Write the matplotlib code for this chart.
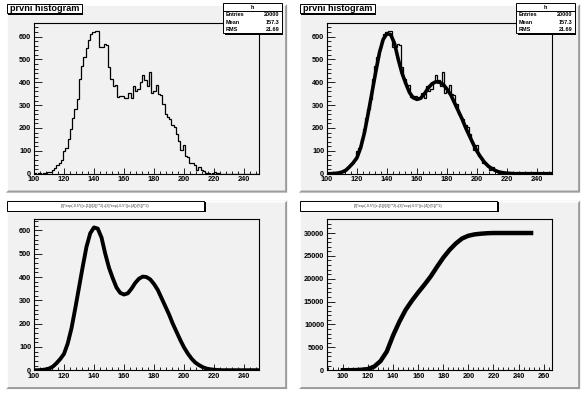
import matplotlib
matplotlib.use("Agg")
import numpy as np
import matplotlib.pyplot as plt
from matplotlib.patches import Rectangle, Polygon
from matplotlib.lines import Line2D
from matplotlib.ticker import MultipleLocator

plt.rcParams['font.family'] = ['Liberation Sans', 'DejaVu Sans']
plt.rcParams['font.weight'] = 'bold'

# ---------------- data ----------------
title_text = "prvni histogram"
formula_text = "[0]*exp(-0.5*((x-[1])/[2])**2)+[3]*exp(-0.5*((x-[4])/[5])**2)"
stats_name = "h"
stats_labels = ["Entries", "Mean", "RMS"]
stats_values = ["20000", "157.3", "21.69"]

hist_lo = 100.0
hist_width = 1.5
hist_counts = [
    2, 0, 3, 0, 2, 3, 6, 8, 18, 25,
    40, 48, 60, 100, 113, 152, 195, 245, 285, 328,
    413, 470, 510, 550, 585, 612, 618, 622, 626, 553,
    553, 567, 565, 465, 413, 385, 390, 335, 342, 338,
    330, 330, 352, 330, 385, 360, 370, 400, 430, 410,
    385, 445, 352, 360, 388, 350, 345, 305, 262, 250,
    240, 212, 205, 172, 145, 105, 125, 78, 72, 48,
    45, 38, 18, 30, 15, 12, 3, 5, 0, 3,
    6, 2, 0, 0, 0, 0, 0, 0, 0, 0,
    0, 0, 0, 0, 0, 0, 0, 0, 0, 0,
]

fit_x = np.arange(100.0, 250.01, 2.5)
fit_y = [
    0, 0, 1, 3, 7, 15, 30, 48, 70, 115,
    180, 265, 355, 445, 530, 588, 613, 608, 570, 500,
    440, 395, 355, 332, 325, 330, 350, 375, 393, 402,
    400, 390, 370, 345, 310, 275, 240, 200, 165, 130,
    98, 72, 50, 33, 22, 13, 7, 4, 2, 1,
    0, 0, 0, 0, 0, 0, 0, 0, 0, 0, 0,
]

cum_x = np.arange(100.0, 250.01, 5.0)
cum_y = [
    0, 0, 20, 100, 250, 800, 2000, 4100, 7600, 10600,
    13200, 15200, 17000, 18700, 20500, 22600, 24600, 26300, 27700, 28800,
    29400, 29700, 29850, 29950, 30000, 30000, 30000, 30000, 30000, 30000, 30000,
]

# ---------------- layout ----------------
W, H = 586, 393
fig = plt.figure(figsize=(W / 100, H / 100), dpi=100)
fig.patch.set_facecolor('white')
PAD = '#f1f1f1'


def fp(x, y):
    return (x / W, 1 - y / H)


def prect(x0, y0, x1, y1, **kw):
    # pixel rect (y downwards)
    fig.patches.append(Rectangle((x0 / W, 1 - y1 / H), (x1 - x0) / W, (y1 - y0) / H,
                                 transform=fig.transFigure, **kw))


pads = [(0.01, 0.49, 0.51, 0.99), (0.51, 0.99, 0.51, 0.99),
        (0.01, 0.49, 0.01, 0.49), (0.51, 0.99, 0.01, 0.49)]

axes = []
for (x0, x1, y0, y1) in pads:
    px0, px1 = x0 * W, x1 * W
    py0, py1 = (1 - y1) * H, (1 - y0) * H
    prect(px0, py0, px1, py1, facecolor=PAD, edgecolor='none', zorder=-3)
    b = 2.0
    dark = '#9c9c9c'
    fig.patches.append(Polygon([fp(px1, py0), fp(px1, py1), fp(px0, py1), fp(px0 + b, py1 - b),
                                fp(px1 - b, py1 - b), fp(px1 - b, py0 + b)],
                               closed=True, transform=fig.transFigure, facecolor=dark,
                               edgecolor='none', zorder=-2))
    fig.patches.append(Polygon([fp(px0, py0), fp(px1, py0), fp(px1 - b, py0 + b), fp(px0 + b, py0 + b),
                                fp(px0 + b, py1 - b), fp(px0, py1)],
                               closed=True, transform=fig.transFigure, facecolor='white',
                               edgecolor='none', zorder=-2))
    w = x1 - x0
    h = y1 - y0
    ax = fig.add_axes([x0 + 0.1 * w, y0 + 0.1 * h, 0.8 * w, 0.8 * h])
    ax.set_facecolor(PAD)
    for s in ax.spines.values():
        s.set_linewidth(0.8)
        s.set_color('black')
    ax.tick_params(axis='both', which='both', direction='in', labelsize=5.3, width=0.6,
                   top=False, right=False)
    ax.tick_params(axis='x', which='major', length=4.5, pad=2.0)
    ax.tick_params(axis='x', which='minor', length=2.3)
    ax.tick_params(axis='y', which='major', length=5.5, pad=2.0)
    ax.tick_params(axis='y', which='minor', length=2.8)
    axes.append(ax)

edges = hist_lo + hist_width * np.arange(len(hist_counts) + 1)

for i in (0, 1):
    ax = axes[i]
    ax.stairs(hist_counts, edges, color='black', lw=0.9, baseline=0)
    ax.set_xlim(100, 250)
    ax.set_ylim(0, 660)
    ax.xaxis.set_major_locator(MultipleLocator(20))
    ax.xaxis.set_minor_locator(MultipleLocator(4))
    ax.yaxis.set_major_locator(MultipleLocator(100))
    ax.yaxis.set_minor_locator(MultipleLocator(20))

axes[1].plot(fit_x, fit_y, color='black', lw=2.6, solid_joinstyle='round', clip_on=True)

ax = axes[2]
ax.plot(fit_x, fit_y, color='black', lw=2.8, solid_joinstyle='round')
ax.set_xlim(100, 250)
ax.set_ylim(0, 648)
ax.xaxis.set_major_locator(MultipleLocator(20))
ax.xaxis.set_minor_locator(MultipleLocator(4))
ax.yaxis.set_major_locator(MultipleLocator(100))
ax.yaxis.set_minor_locator(MultipleLocator(20))

ax = axes[3]
ax.plot(cum_x, cum_y, color='black', lw=3.2, solid_joinstyle='round')
ax.set_xlim(87.3, 266.7)
ax.set_ylim(0, 33000)
ax.xaxis.set_major_locator(MultipleLocator(20))
ax.xaxis.set_minor_locator(MultipleLocator(4))
ax.yaxis.set_major_locator(MultipleLocator(5000))
ax.yaxis.set_minor_locator(MultipleLocator(1000))

# ---------------- title and stats boxes ----------------
for k, (x0, x1, y0, y1) in enumerate(pads):
    ox = x0 * W - 0.01 * W
    oy = (1 - y1) * H - 0.01 * H
    if k < 2:
        # title box
        prect(ox + 8.2, oy + 5.8, ox + 83.2, oy + 14.8, facecolor='black', edgecolor='none', zorder=5)
        prect(ox + 6.7, oy + 4.3, ox + 81.7, oy + 13.3, facecolor='white', edgecolor='black', lw=0.7, zorder=6)
        fig.text((ox + 44.2) / W, 1 - (oy + 8.9) / H, title_text, ha='center', va='center',
                 fontsize=6.6, fontweight='bold', zorder=7)
        # stats box
        sx0, sx1, sy0, sy1 = ox + 223.3, ox + 281.7, oy + 3.3, oy + 33.3
        prect(sx0 + 1.5, sy0 + 1.5, sx1 + 1.5, sy1 + 1.5, facecolor='black', edgecolor='none', zorder=5)
        prect(sx0, sy0, sx1, sy1, facecolor='white', edgecolor='black', lw=0.7, zorder=6)
        fig.lines.append(Line2D([sx0 / W, sx1 / W], [1 - (oy + 11.3) / H] * 2,
                                transform=fig.transFigure, color='black', lw=0.7, zorder=7))
        fig.text((sx0 + sx1) / 2 / W, 1 - (oy + 7.3) / H, stats_name, ha='center', va='center',
                 fontsize=4.0, fontweight='bold', zorder=8)
        for r, (lab, val) in enumerate(zip(stats_labels, stats_values)):
            yy = oy + 15.0 + r * 7.4
            fig.text((sx0 + 2.0) / W, 1 - yy / H, lab, ha='left', va='center',
                     fontsize=4.0, fontweight='bold', zorder=8)
            fig.text((sx1 - 2.0) / W, 1 - yy / H, val, ha='right', va='center',
                     fontsize=4.0, fontweight='bold', zorder=8)
    else:
        prect(ox + 8.2, oy + 5.8, ox + 205.5, oy + 15.8, facecolor='black', edgecolor='none', zorder=5)
        prect(ox + 6.7, oy + 4.3, ox + 204.0, oy + 14.3, facecolor='white', edgecolor='black', lw=0.7, zorder=6)
        fig.text((ox + 105.3) / W, 1 - (oy + 9.3) / H, formula_text, ha='center', va='center',
                 fontsize=2.6, fontweight='normal', color='#333333', zorder=7)

fig.savefig('out.png', dpi=100, facecolor=fig.get_facecolor())
